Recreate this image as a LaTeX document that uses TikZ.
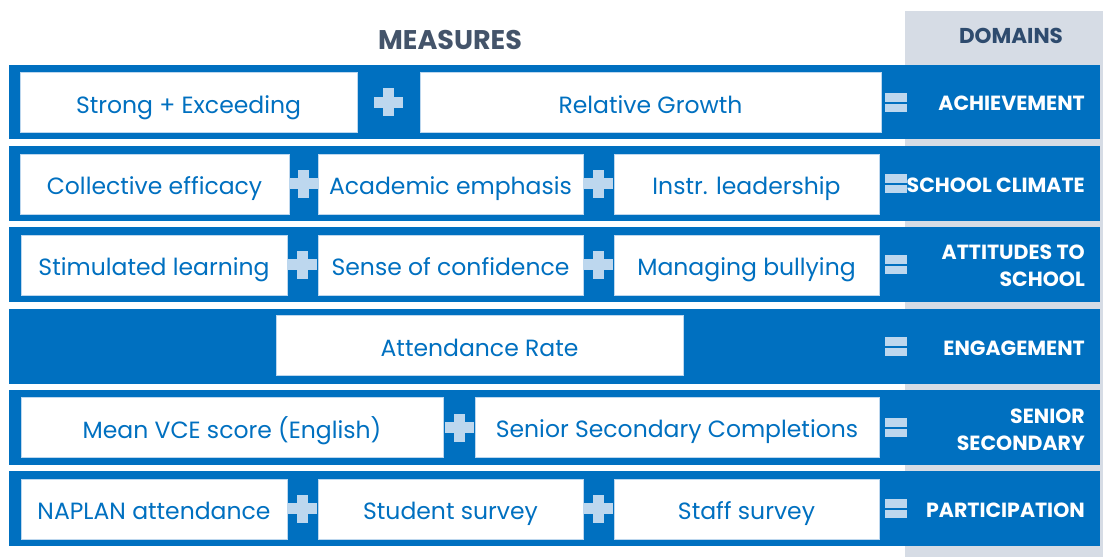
\documentclass[tikz,border=0pt]{standalone}
\usepackage{fontspec}
\setmainfont{Poppins}
\definecolor{barblue}{HTML}{0070C0}
\definecolor{signblue}{HTML}{BDD7EE}
\definecolor{domaingrey}{HTML}{D6DCE5}
\definecolor{headslate}{HTML}{44546A}
\definecolor{headnavy}{HTML}{2E4B6E}
\begin{document}
\begin{tikzpicture}[x=1pt, y=-1pt,
	measure/.style={draw=signblue, line width=0.5pt, fill=white, text=barblue, minimum height=60pt, inner sep=0pt, text height=22pt, text depth=1pt, font=\fontsize{23.5}{26}\selectfont},
	domainlabel/.style={anchor=east, align=right, text=white, inner sep=0pt, text height=17pt, text depth=0pt, font=\bfseries\fontsize{20.5}{27}\selectfont},
	header/.style={anchor=base, font=\bfseries\fontsize{27}{30}\selectfont}]
	\useasboundingbox (0,0) rectangle (1103,557);
	
	% grey column behind the domains
	\fill[domaingrey] (905,11) rectangle (1103,557);
	\node[header, text=headslate] (measures) at (450,49){MEASURES};
	\node[header, text=headnavy, font=\bfseries\fontsize{21.5}{24}\selectfont] (domains) at (1011,43){DOMAINS};
	
	% blue bars and equals signs
	\foreach \y in {102, 183.5, 264.5, 346.5, 427.5, 508.5}{
		\fill[barblue] (9, \y-37.5) rectangle (1100, \y+37);
		\fill[signblue] (885, \y-9.5) rectangle (907, \y-0.5);
		\fill[signblue] (885, \y+1.5) rectangle (907, \y+9.5);
	}
	
	% plus signs
	\foreach \x/\y in {388.5/102, 303.5/183.5, 598.5/183.5, 302.5/264.5, 598.5/264.5, 459/427.5, 302.5/508.5, 598.5/508.5}{
		\fill[signblue] (\x-14.5, \y-5.5) rectangle (\x+14.5, \y+5.5);
		\fill[signblue] (\x-5.5, \y-14) rectangle (\x+5.5, \y+14);
	}
	
	% row 1
	\node[measure, minimum width=337pt] (strong) at (188.5,102.5){Strong + Exceeding};
	\node[measure, minimum width=461pt] (growth) at (650.5,102.5){Relative Growth};
	\node[domainlabel] (achievement) at (1085,102){ACHIEVEMENT};
	
	% row 2
	\node[measure, minimum width=269pt] (efficacy) at (154.5,184){Collective efficacy};
	\node[measure, minimum width=265pt] (emphasis) at (450.5,184){Academic emphasis};
	\node[measure, minimum width=265pt] (leadership) at (746.5,184){Instr. leadership};
	\node[domainlabel] (climate) at (1085,183.5){SCHOOL CLIMATE};
	
	% row 3
	\node[measure, minimum width=266pt] (stimulated) at (154,265){Stimulated learning};
	\node[measure, minimum width=265pt] (confidence) at (450.5,265){Sense of confidence};
	\node[measure, minimum width=265pt] (bullying) at (746.5,265){Managing bullying};
	\node[domainlabel] (attitudes) at (1085,277.5){ATTITUDES TO\\SCHOOL};
	
	% row 4
	\node[measure, minimum width=407pt] (attendance) at (479.5,345.5){Attendance Rate};
	\node[domainlabel] (engagement) at (1085,346.5){ENGAGEMENT};
	
	% row 5
	\node[measure, minimum width=422pt] (vce) at (232,427.5){Mean VCE score (English)};
	\node[measure, minimum width=404pt] (completions) at (677,427){Senior Secondary Completions};
	\node[domainlabel] (senior) at (1085,441.5){SENIOR\\SECONDARY};
	
	% row 6
	\node[measure, minimum width=266pt] (naplan) at (154,509){NAPLAN attendance};
	\node[measure, minimum width=265pt] (student) at (450.5,509){Student survey};
	\node[measure, minimum width=265pt] (staff) at (746.5,509){Staff survey};
	\node[domainlabel] (participation) at (1085,508.5){PARTICIPATION};
\end{tikzpicture}
\end{document}
